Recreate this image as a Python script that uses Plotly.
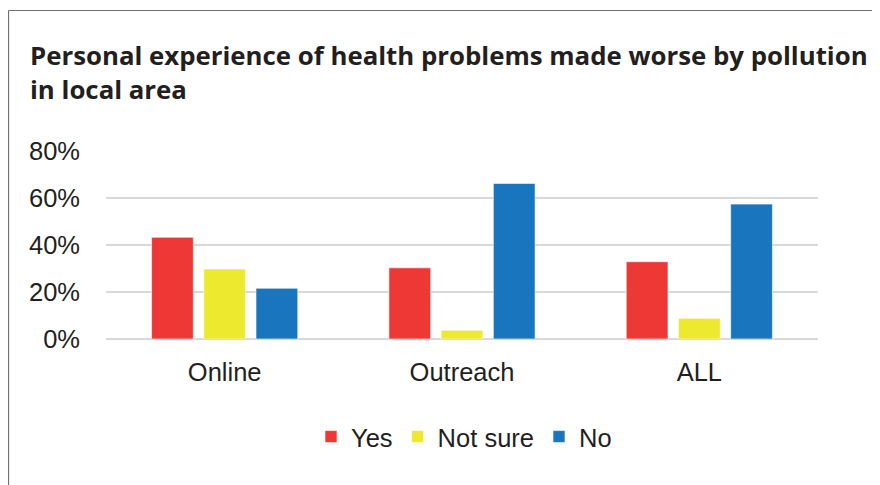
import plotly.graph_objects as go

# ---- data ----
categories = ["Online", "Outreach", "ALL"]
series_names = ["Yes", "Not sure", "No"]
yes_values = [43.3, 30.3, 32.9]
not_sure_values = [29.8, 3.7, 8.8]
no_values = [21.6, 66.2, 57.4]
y_tick_values = [0, 20, 40, 60, 80]
y_tick_labels = ["0%", "20%", "40%", "60%", "80%"]
title_text = "Personal experience of health problems made worse by pollution<br>in local area"

# ---- style ----
series_colors = ["#EE3836", "#EDE92F", "#1976BE"]
W, H = 880, 485
OX, OY = 8, 8  # page offset of the figure (body margin)
# target plot area in page pixels: x 106..818, y 151..339
L = 106 - OX
T = 151 - OY
R = W - (818 - OX)
B = H - (339 - OY)
plot_w = W - L - R
plot_h = H - T - B
text_color = "#231F20"
tick_font = dict(family="Liberation Sans, Arial, sans-serif", size=25.5, color=text_color)


def px_x(page_x):
    return (page_x - OX - L) / plot_w


def px_y(page_y):
    return (H - B - (page_y - OY)) / plot_h


fig = go.Figure()
for name, vals, col in zip(series_names, [yes_values, not_sure_values, no_values], series_colors):
    fig.add_trace(go.Bar(
        x=categories, y=vals, name=name,
        marker=dict(color=col, line=dict(color="rgba(255,255,255,0.6)", width=1)),
    ))

# frame lines (top and left edge of the chart box)
frame_color = "#707070"
fig.add_shape(type="line", xref="paper", yref="paper",
              x0=px_x(8.5), x1=px_x(1000), y0=px_y(10.5), y1=px_y(10.5),
              line=dict(color=frame_color, width=1.2))
fig.add_shape(type="line", xref="paper", yref="paper",
              x0=px_x(8.5), x1=px_x(8.5), y0=px_y(10.5), y1=px_y(600),
              line=dict(color=frame_color, width=1.2))

fig.update_layout(
    width=W, height=H,
    margin=dict(l=L, r=R, t=T, b=B, autoexpand=False),
    paper_bgcolor="white", plot_bgcolor="white",
    barmode="group", bargap=0.34, bargroupgap=0.2,
    title=dict(text=title_text, x=(30 - OX) / W, xanchor="left", xref="container",
               y=1 - 57 / H, yanchor="top", yref="container",
               font=dict(family="Open Sans, sans-serif", size=25.8, color=text_color, weight="bold")),
    legend=dict(orientation="h", x=px_x(464), xanchor="center", y=px_y(437), yanchor="middle",
                font=tick_font, itemwidth=30, traceorder="normal"),
    showlegend=True,
)
fig.update_xaxes(showgrid=False, showline=False, ticks="", tickfont=tick_font, ticklabelstandoff=15)
fig.update_yaxes(range=[0, 80], tickvals=y_tick_values, ticktext=y_tick_labels,
                 showgrid=True, gridcolor="#D9D9D9", gridwidth=1.5,
                 zeroline=True, zerolinecolor="#D9D9D9", zerolinewidth=1.5,
                 showline=False, ticks="", tickfont=tick_font, ticklabelstandoff=25)

fig.write_html("out.html")
